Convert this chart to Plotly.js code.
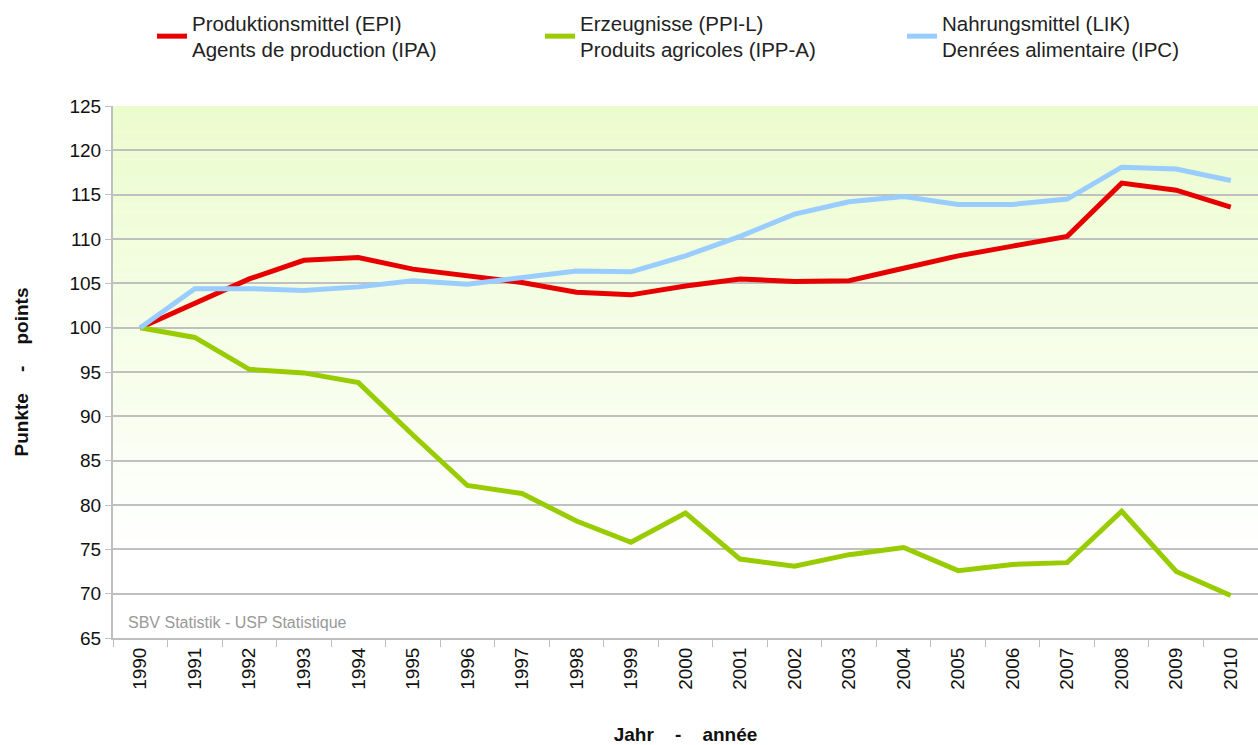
<!DOCTYPE html>
<html>
<head>
<meta charset="utf-8">
<script src="https://cdn.plot.ly/plotly-3.0.1.min.js"></script>
<style>
  html, body { margin: 0; padding: 0; background: #ffffff; }
  #chart { width: 1258px; height: 745px; }
</style>
</head>
<body>
<div id="chart"></div>
<script>
// ---- data ----
const years = ["1990","1991","1992","1993","1994","1995","1996","1997","1998","1999","2000",
               "2001","2002","2003","2004","2005","2006","2007","2008","2009","2010"];

const seriesNames = [
  "Produktionsmittel (EPI)<br>Agents de production (IPA)",
  "Erzeugnisse (PPI-L)<br>Produits agricoles (IPP-A)",
  "Nahrungsmittel (LIK)<br>Denrées alimentaire (IPC)"
];

const productionInputs = [100, 102.7, 105.5, 107.6, 107.9, 106.6, 105.9, 105.1, 104.0, 103.7, 104.7,
                          105.5, 105.2, 105.3, 106.7, 108.1, 109.2, 110.3, 116.3, 115.5, 113.6];
const agriProducts     = [100, 98.9, 95.3, 94.9, 93.8, 87.9, 82.2, 81.3, 78.2, 75.8, 79.1,
                          73.9, 73.1, 74.4, 75.2, 72.6, 73.3, 73.5, 79.3, 72.5, 69.8];
const foodPrices       = [100, 104.4, 104.4, 104.2, 104.6, 105.3, 104.9, 105.6, 106.4, 106.3, 108.1,
                          110.3, 112.8, 114.2, 114.8, 113.9, 113.9, 114.5, 118.1, 117.9, 116.6];

const yTicks = [65, 70, 75, 80, 85, 90, 95, 100, 105, 110, 115, 120, 125];

const sourceNote = "SBV Statistik - USP Statistique";
const xTitle = "Jahr&nbsp;&nbsp;&nbsp;&nbsp;-&nbsp;&nbsp;&nbsp;&nbsp;année";
const yTitle = "Punkte&nbsp;&nbsp;&nbsp;&nbsp;-&nbsp;&nbsp;&nbsp;&nbsp;points";

// ---- styling ----
const FONT = "Liberation Sans, Arial, Helvetica, sans-serif";
const colors = ["#e60000", "#99cc00", "#99ccff"];

const traces = [
  {x: years, y: productionInputs, name: seriesNames[0], legend: "legend"},
  {x: years, y: agriProducts,     name: seriesNames[1], legend: "legend2"},
  {x: years, y: foodPrices,       name: seriesNames[2], legend: "legend3"}
].map((t, i) => Object.assign(t, {
  type: "scatter", mode: "lines",
  line: {color: colors[i], width: 5, shape: "linear"},
  hoverinfo: "x+y+name"
}));

// background gradient (light green at top fading to white)
const bgShapes = [];
const yTop = 125, yBot = 65, steps = 60;
const c0 = [235, 252, 205], c1 = [255, 255, 255];
for (let i = 0; i < steps; i++) {
  const a = yTop - (yTop - yBot) * i / steps;
  const b = yTop - (yTop - yBot) * (i + 1) / steps;
  let f = ((i + 0.5) / steps) / 0.85;
  if (f > 1) f = 1;
  const c = c0.map((v, k) => Math.round(v + (c1[k] - v) * f));
  bgShapes.push({
    type: "rect", xref: "paper", yref: "y", x0: 0, x1: 1, y0: b, y1: a,
    fillcolor: `rgb(${c[0]},${c[1]},${c[2]})`, line: {width: 0}, layer: "below"
  });
}

const legendBase = {
  orientation: "v", xanchor: "left", yanchor: "top",
  font: {family: FONT, size: 20.5, color: "#222"},
  bgcolor: "rgba(0,0,0,0)", borderwidth: 0, itemwidth: 30,
  tracegroupgap: 0
};

const plotLeft = 113, plotWidth = 1145, plotTop = 106, plotHeight = 532;
const px2x = px => (px - plotLeft) / plotWidth;
const px2y = py => (plotTop + plotHeight - py) / plotHeight;

const layout = {
  width: 1258, height: 745,
  margin: {l: plotLeft, r: 0, t: plotTop, b: 745 - plotTop - plotHeight, pad: 0},
  paper_bgcolor: "#ffffff",
  plot_bgcolor: "#ffffff",
  font: {family: FONT, size: 19, color: "#111"},
  showlegend: true,
  legend:  Object.assign({}, legendBase, {x: px2x(152), y: px2y(3)}),
  legend2: Object.assign({}, legendBase, {x: px2x(540), y: px2y(3)}),
  legend3: Object.assign({}, legendBase, {x: px2x(902), y: px2y(3)}),
  xaxis: {
    type: "category",
    range: [-0.5, years.length - 0.5],
    tickangle: -90,
    tickson: "boundaries",
    ticks: "outside", ticklen: 7, tickwidth: 1, tickcolor: "#bfbfbf",
    showline: true, linecolor: "#bfbfbf", linewidth: 2,
    showgrid: false, zeroline: false,
    tickfont: {family: FONT, size: 19, color: "#111"},
    title: {text: xTitle, font: {family: FONT, size: 19, color: "#111", weight: "bold"}, standoff: 42},
    automargin: false, fixedrange: true
  },
  yaxis: {
    range: [65, 125],
    tickvals: yTicks,
    ticktext: yTicks.map(String),
    ticks: "outside", ticklen: 6, tickwidth: 1, tickcolor: "#bfbfbf",
    showline: true, linecolor: "#bfbfbf", linewidth: 2,
    showgrid: true, gridcolor: "#c0c0c0", gridwidth: 2,
    zeroline: false,
    tickfont: {family: FONT, size: 19, color: "#111"},
    title: {text: yTitle, font: {family: FONT, size: 19, color: "#111", weight: "bold"}, standoff: 36},
    automargin: false, fixedrange: true
  },
  shapes: bgShapes,
  annotations: [{
    text: sourceNote, xref: "paper", yref: "paper",
    x: px2x(126), y: px2y(622), xanchor: "left", yanchor: "middle",
    showarrow: false, font: {family: FONT, size: 16, color: "#999999"}
  }]
};

Plotly.newPlot("chart", traces, layout, {displayModeBar: false, responsive: false});
</script>
</body>
</html>
